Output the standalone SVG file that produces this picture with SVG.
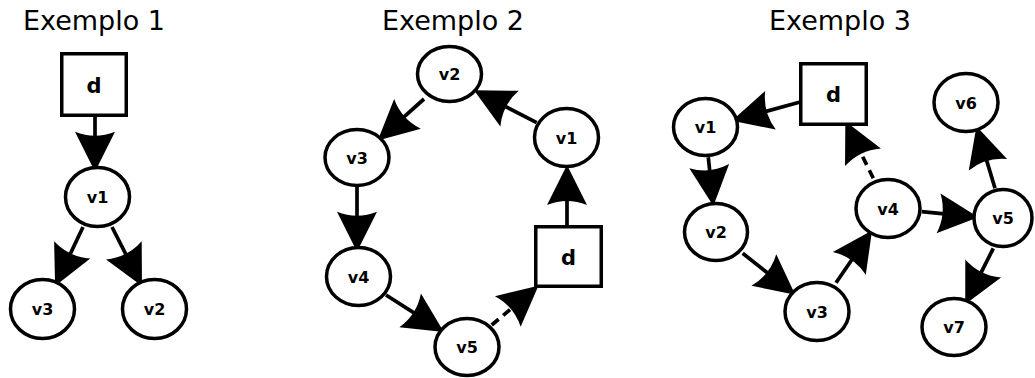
<svg xmlns="http://www.w3.org/2000/svg" width="1035" height="378" viewBox="0 0 1035 378">
  <defs>
    <style>
      .title { font-family: "DejaVu Sans", "Liberation Sans", sans-serif; font-size: 27px; fill: #000; text-anchor: middle; }
      .node { fill: #fff; stroke: #000; stroke-width: 3.5; }
      .lbl { font-family: "DejaVu Sans", "Liberation Sans", sans-serif; font-weight: bold; font-size: 16px; fill: #000; text-anchor: middle; }
      .lbl-d { font-family: "DejaVu Sans", "Liberation Sans", sans-serif; font-weight: bold; font-size: 21px; fill: #000; text-anchor: middle; }
      .edge { fill: none; stroke: #000; stroke-width: 3.7; marker-end: url(#dart); }
      .dashed { stroke-dasharray: 9 6; }
    </style>
    <!-- dart head; tip sits 20px beyond the line end -->
    <marker id="dart" markerUnits="userSpaceOnUse" orient="auto" refX="0" refY="0" markerWidth="60" markerHeight="60" viewBox="-20 -20 45 40" overflow="visible">
      <path d="M20,0 L-10,-15 Q-4,0 -10,15 Z" fill="#000"/>
    </marker>
  </defs>

  <!-- titles -->
  <text class="title" x="94" y="30">Exemplo 1</text>
  <text class="title" x="453" y="30">Exemplo 2</text>
  <text class="title" x="840" y="30">Exemplo 3</text>

  <!-- connectors -->
  <g id="connectors">
    <!-- Exemplo 1 -->
    <line class="edge" x1="95" y1="117" x2="95" y2="145"/>
    <line class="edge" x1="83" y1="227" x2="66.5" y2="261.9"/>
    <line class="edge" x1="112" y1="227" x2="129.9" y2="262.2"/>
    <!-- Exemplo 2 -->
    <line class="edge" x1="567" y1="225" x2="567" y2="191.7"/>
    <line class="edge" x1="536.7" y1="122.7" x2="497.7" y2="102.5"/>
    <line class="edge" x1="424" y1="99" x2="397.6" y2="122.7"/>
    <line class="edge" x1="357" y1="187" x2="357" y2="225"/>
    <line class="edge" x1="386" y1="295" x2="421.4" y2="317.6"/>
    <line class="edge dashed" x1="491.7" y1="325" x2="518" y2="302.9"/>
    <!-- Exemplo 3 -->
    <line class="edge" x1="799.3" y1="102.3" x2="757.6" y2="113.7"/>
    <line class="edge" x1="708.3" y1="157.3" x2="710.6" y2="179.4"/>
    <line class="edge" x1="742.7" y1="253.3" x2="774.3" y2="278.3"/>
    <line class="edge" x1="836" y1="282.7" x2="856.9" y2="252.4"/>
    <line class="edge dashed" x1="873.3" y1="178.3" x2="857.1" y2="145.3"/>
    <line class="edge" x1="921.7" y1="211.7" x2="951.8" y2="214.7"/>
    <line class="edge" x1="995" y1="188.3" x2="984.1" y2="151.9"/>
    <line class="edge" x1="993.3" y1="248.3" x2="977.2" y2="280.4"/>
  </g>

  <!-- Exemplo 1 nodes -->
  <g id="ex1-d"><rect class="node" x="61.75" y="53.75" width="64.5" height="61.5"/><text class="lbl-d" x="94" y="93">d</text></g>
  <g id="ex1-v1"><ellipse class="node" cx="97.5" cy="197" rx="32" ry="29.5"/><text class="lbl" x="97.5" y="203">v1</text></g>
  <g id="ex1-v3"><ellipse class="node" cx="42.5" cy="309" rx="32" ry="29.5"/><text class="lbl" x="42.5" y="315">v3</text></g>
  <g id="ex1-v2"><ellipse class="node" cx="154.5" cy="309" rx="32" ry="29.5"/><text class="lbl" x="154.5" y="315">v2</text></g>

  <!-- Exemplo 2 nodes -->
  <g id="ex2-v2"><ellipse class="node" cx="449.5" cy="74" rx="32" ry="27.5"/><text class="lbl" x="449.5" y="80">v2</text></g>
  <g id="ex2-v1"><ellipse class="node" cx="566.5" cy="137.5" rx="32" ry="29"/><text class="lbl" x="566.5" y="143.5">v1</text></g>
  <g id="ex2-v3"><ellipse class="node" cx="357" cy="157.5" rx="32" ry="28"/><text class="lbl" x="357" y="163.5">v3</text></g>
  <g id="ex2-v4"><ellipse class="node" cx="358.5" cy="276.5" rx="32" ry="29"/><text class="lbl" x="358.5" y="282.5">v4</text></g>
  <g id="ex2-v5"><ellipse class="node" cx="467" cy="347" rx="32" ry="28.5"/><text class="lbl" x="467" y="353">v5</text></g>
  <g id="ex2-d"><rect class="node" x="535.75" y="226.75" width="65.5" height="59.5"/><text class="lbl-d" x="568.5" y="265">d</text></g>

  <!-- Exemplo 3 nodes -->
  <g id="ex3-d"><rect class="node" x="800.75" y="63.75" width="65.5" height="60.5"/><text class="lbl-d" x="833.5" y="102">d</text></g>
  <g id="ex3-v1"><ellipse class="node" cx="705.5" cy="127" rx="32" ry="28.5"/><text class="lbl" x="705.5" y="133">v1</text></g>
  <g id="ex3-v2"><ellipse class="node" cx="716" cy="232" rx="31.5" ry="28.5"/><text class="lbl" x="716" y="238">v2</text></g>
  <g id="ex3-v3"><ellipse class="node" cx="817" cy="311.5" rx="32" ry="29"/><text class="lbl" x="817" y="317.5">v3</text></g>
  <g id="ex3-v4"><ellipse class="node" cx="888" cy="208.5" rx="32" ry="29"/><text class="lbl" x="888" y="214.5">v4</text></g>
  <g id="ex3-v5"><ellipse class="node" cx="1003" cy="218" rx="29" ry="28.5"/><text class="lbl" x="1003" y="224">v5</text></g>
  <g id="ex3-v6"><ellipse class="node" cx="966" cy="102.5" rx="32" ry="29"/><text class="lbl" x="966" y="108.5">v6</text></g>
  <g id="ex3-v7"><ellipse class="node" cx="954" cy="327" rx="32" ry="28.5"/><text class="lbl" x="954" y="333">v7</text></g>
</svg>
